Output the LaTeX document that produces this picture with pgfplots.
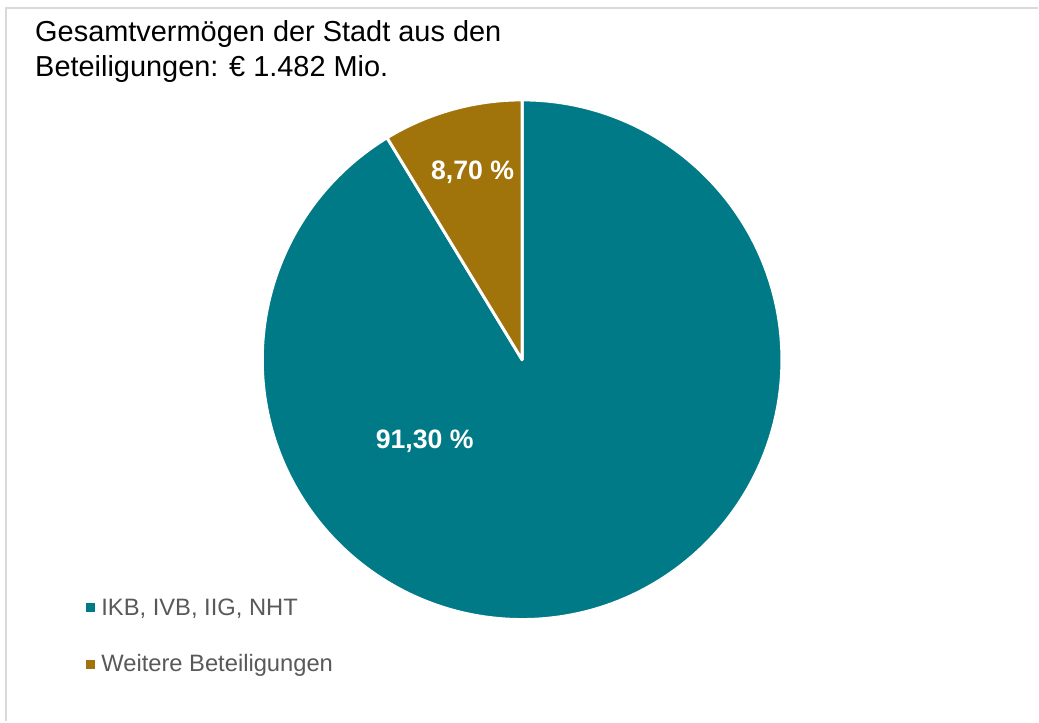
\documentclass[border=0pt]{standalone}
\usepackage{fontspec}
\setmainfont{Liberation Sans}
\usepackage{pgfplots}
\usepackage{pgfplotstable}
\pgfplotsset{compat=1.18}
\definecolor{ibkteal}{RGB}{0,122,135}
\definecolor{ibkgold}{RGB}{161,115,11}
\definecolor{framegray}{RGB}{217,217,217}
\definecolor{legtext}{RGB}{89,89,89}

\pgfplotstableread[col sep=comma]{
label,share
IKB,91.30
Weitere,8.70
}\sharetable
\pgfplotstablegetelem{0}{share}\of\sharetable \let\shareA\pgfplotsretval
\pgfplotstablegetelem{1}{share}\of\sharetable \let\shareB\pgfplotsretval
% slices run clockwise from 12 o'clock
\pgfmathsetmacro{\angA}{90-3.6*\shareA}
\pgfmathsetmacro{\angB}{\angA-3.6*\shareB}
\def\rad{195pt}

\begin{document}
\begin{tikzpicture}
\begin{axis}[
  width=779.25pt, height=541.5pt, scale only axis,
  xmin=0, xmax=1039, ymin=0, ymax=722,
  hide axis, clip=false,
  legend cell align=left,
  legend image code/.code={\fill[#1] (0pt,-3pt) rectangle (6pt,3pt);},
  legend style={at={(axis cs:82,126)}, anchor=north west, draw=none, fill=none,
    font=\fontsize{17.8}{21}\selectfont\color{legtext},
    row sep=28pt, column sep=5pt, nodes={inner sep=0pt}},
]
\fill[white] (axis cs:0,0) rectangle (axis cs:1039,722);
\draw[framegray, line width=1.2pt] (axis cs:6,0) -- (axis cs:6,714) -- (axis cs:1039,714);
\addlegendimage{ibkteal}
\addlegendentry{IKB, IVB, IIG, NHT}
\addlegendimage{ibkgold}
\addlegendentry{Weitere Beteiligungen}
\filldraw[fill=ibkteal, draw=white, line width=2.2pt, line join=round]
  (axis cs:522.5,362) -- ++(90:\rad) arc[start angle=90, end angle=\angA, radius=\rad] -- cycle;
\filldraw[fill=ibkgold, draw=white, line width=2.2pt, line join=round]
  (axis cs:522.5,362) -- ++(\angA:\rad) arc[start angle=\angA, end angle=\angB, radius=\rad] -- cycle;
\node[white, font=\fontsize{20}{22}\selectfont\bfseries] at (axis cs:473,550) {8,70 \%};
\node[white, font=\fontsize{20}{22}\selectfont\bfseries] at (axis cs:425,280) {91,30 \%};
\node[anchor=base west, inner sep=0pt, font=\fontsize{21.7}{25}\selectfont] at (axis cs:35,680) {Gesamtvermögen der Stadt aus den};
\node[anchor=base west, inner sep=0pt, font=\fontsize{21.7}{25}\selectfont] at (axis cs:35,645) {Beteiligungen: € 1.482 Mio.};
\end{axis}
\end{tikzpicture}
\end{document}
